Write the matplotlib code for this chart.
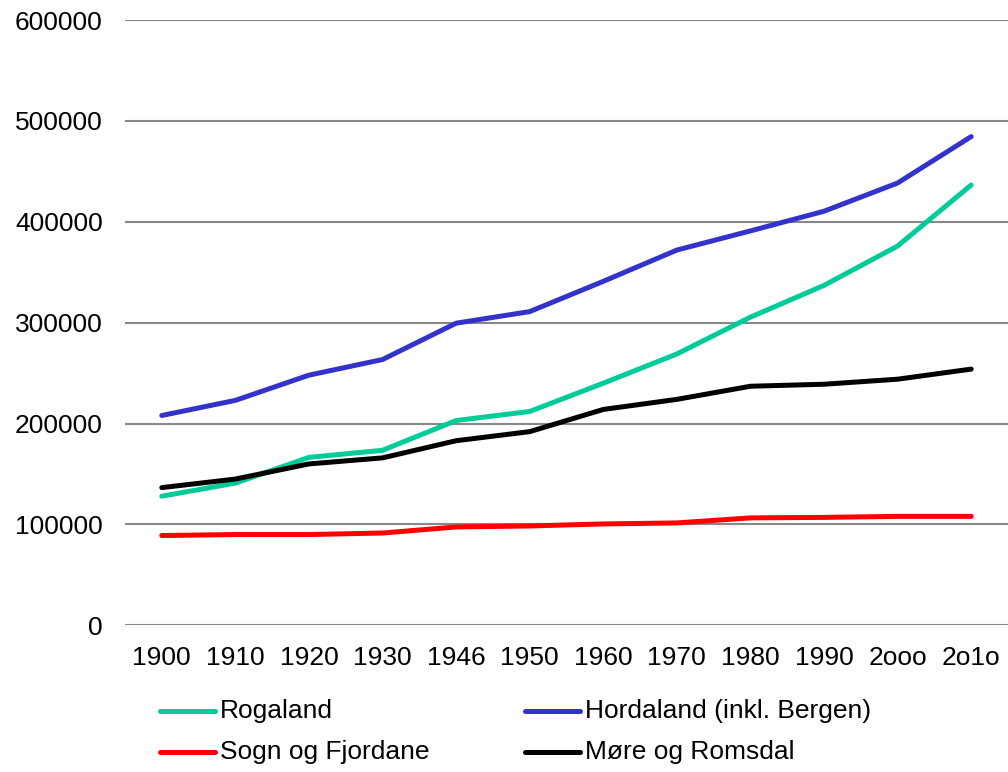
import matplotlib
matplotlib.use("Agg")
import matplotlib.pyplot as plt
from matplotlib.lines import Line2D

plt.rcParams['font.family'] = ['Liberation Sans', 'DejaVu Sans']

years = ['1900', '1910', '1920', '1930', '1946', '1950', '1960', '1970', '1980', '1990', '2ooo', '2o1o']

rogaland = [128000, 141000, 166500, 173500, 203000, 212000, 240000, 269000, 305500, 337000, 376000, 436500]
hordaland = [208000, 223000, 248000, 263500, 299500, 311000, 341000, 372000, 391000, 410500, 438500, 484500]
sogn = [89000, 90000, 90000, 91500, 97500, 98500, 100500, 101500, 106500, 107000, 108000, 108000]
more = [136500, 145000, 160000, 166000, 183000, 192000, 214000, 224000, 237000, 239000, 244000, 254000]

serier = [
    ('Rogaland', rogaland, '#00CC99'),
    ('Hordaland (inkl. Bergen)', hordaland, '#3333CC'),
    ('Sogn og Fjordane', sogn, '#FF0000'),
    ('Møre og Romsdal', more, '#000000'),
]

fig = plt.figure(figsize=(10.08, 7.72), dpi=100)
ax = fig.add_axes([0.124, 0.190, 0.876, 0.784])

x = range(len(years))
for navn, verdier, farge in serier:
    ax.plot(x, verdier, color=farge, linewidth=3.6, label=navn,
            solid_capstyle='round', solid_joinstyle='round')

ax.set_xlim(-0.5, len(years) - 0.5)
ax.set_ylim(0, 600000)
ax.set_yticks(range(0, 600001, 100000))
ax.set_xticks(list(x))
ax.set_xticklabels(years)
ax.grid(axis='y', color='#888888', linewidth=1.5)
ax.set_axisbelow(True)
for s in ax.spines.values():
    s.set_visible(False)
ax.tick_params(axis='both', length=0, labelsize=19, colors='#000000')
ax.tick_params(axis='x', pad=15)
ax.tick_params(axis='y', pad=16)

# legenden tegnes for hand: 2 kolonner x 2 rader
kol_x = [0.159, 0.521]       # venstre kant av strek, figurkoordinater
rad_y = [0.0795, 0.0260]
for i, (navn, verdier, farge) in enumerate(serier):
    kx = kol_x[i % 2]
    ry = rad_y[i // 2]
    fig.add_artist(Line2D([kx, kx + 0.054], [ry, ry], transform=fig.transFigure,
                          color=farge, linewidth=3.6, solid_capstyle='round'))
    fig.text(kx + 0.059, ry, navn, fontsize=19, va='center', ha='left')

fig.savefig('out.png', dpi=100)
